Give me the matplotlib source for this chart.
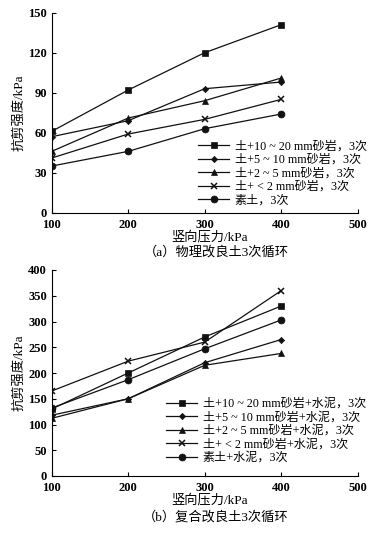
import matplotlib
matplotlib.use("Agg")
import matplotlib.pyplot as plt

plt.rcParams['font.family'] = ['Liberation Serif', 'Noto Sans CJK SC']

pressure = [100, 200, 300, 400]

# (a) physical improvement, 3 cycles
labels_a = ["土+10 ~ 20 mm砂岩，3次", "土+5 ~ 10 mm砂岩，3次", "土+2 ~ 5 mm砂岩，3次",
            "土+ < 2 mm砂岩，3次", "素土，3次"]
s1_a = [61, 92, 120, 141]
s2_a = [57, 69, 93, 98]
s3_a = [46, 71, 84, 101]
s4_a = [41, 59, 70, 85]
s5_a = [35, 46, 63, 74]

# (b) composite improvement, 3 cycles
labels_b = ["土+10 ~ 20 mm砂岩+水泥，3次", "土+5 ~ 10 mm砂岩+水泥，3次", "土+2 ~ 5 mm砂岩+水泥，3次",
            "土+ < 2 mm砂岩+水泥，3次", "素土+水泥，3次"]
s1_b = [130, 200, 270, 330]
s2_b = [118, 150, 220, 265]
s3_b = [112, 150, 215, 238]
s4_b = [165, 223, 260, 360]
s5_b = [132, 187, 247, 303]

markers = [("s", 4.5), ("D", 3.2), ("^", 5), ("x", 4.5), ("o", 5)]

W, H = 383, 536
fig = plt.figure(figsize=(W / 100, H / 100), dpi=100)


def panel(rect, series, labels, ylim, yticks, caption, leg_xy, xl_y, cap_y):
    ax = fig.add_axes(rect)
    for vals, lab, (m, ms) in zip(series, labels, markers):
        ax.plot(pressure, vals, color="#111111", linewidth=0.9, marker=m,
                markersize=ms, markeredgewidth=1.1 if m == "x" else 0.5, label=lab)
    ax.set_xlim(100, 500)
    ax.set_ylim(*ylim)
    ax.set_xticks([100, 200, 300, 400, 500])
    ax.set_yticks(yticks)
    for s in ["top", "right"]:
        ax.spines[s].set_visible(False)
    ax.spines["left"].set_linewidth(0.8)
    ax.spines["bottom"].set_linewidth(0.8)
    ax.tick_params(direction="in", length=3, width=0.8, labelsize=9, pad=3.5)
    ax.tick_params(axis="x", pad=4.5)
    for t in ax.get_xticklabels() + ax.get_yticklabels():
        t.set_fontweight("bold")
    ax.set_ylabel("抗剪强度/kPa", fontsize=9.5, labelpad=2)
    fig.text(210 / W, 1 - xl_y / H, "竖向压力/kPa", ha="center", va="center", fontsize=9.5)
    fig.text(216 / W, 1 - cap_y / H, caption, ha="center", va="center", fontsize=9.5)
    ax.legend(loc="upper left", bbox_to_anchor=(leg_xy[0] / W, 1 - leg_xy[1] / H),
              bbox_transform=fig.transFigure, frameon=False, fontsize=8.7,
              handlelength=2.6, handletextpad=0.45, labelspacing=0.12, borderpad=0,
              borderaxespad=0)
    return ax


panel([51.7 / W, 1 - 212.7 / H, 306 / W, 200 / H],
      [s1_a, s2_a, s3_a, s4_a, s5_a], labels_a, (0, 150), [0, 30, 60, 90, 120, 150],
      "（a）物理改良土3次循环", (198, 140.5), 237.5, 252)

panel([51.7 / W, 1 - 476 / H, 306 / W, 206 / H],
      [s1_b, s2_b, s3_b, s4_b, s5_b], labels_b, (0, 400), list(range(0, 401, 50)),
      "（b）复合改良土3次循环", (166, 398), 500, 517)

fig.savefig("out.png", dpi=100)
